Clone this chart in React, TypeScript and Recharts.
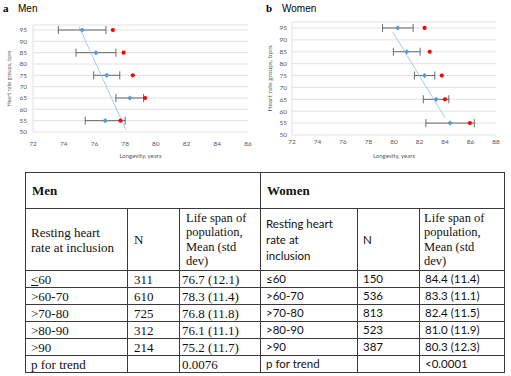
import React from 'react';
import { ScatterChart, Scatter, XAxis, YAxis, CartesianGrid, ErrorBar } from 'recharts';

// heart rate groups (bpm) on the y axis
const heartRateGroups = [55, 65, 75, 85, 95];
const yTicks = [50, 55, 60, 65, 70, 75, 80, 85, 90, 95];
const menXTicks = [72, 74, 76, 78, 80, 82, 84, 86];
const womenXTicks = [72, 74, 76, 78, 80, 82, 84, 86, 88];

// men: mean longevity (blue), error, red marker, trend line ends
const menMean = [76.7, 78.3, 76.8, 76.1, 75.2];
const menError = [1.3, 0.9, 0.85, 1.3, 1.55];
const menRed = [77.7, 79.3, 78.5, 77.9, 77.2];
const menTrendX = [75.0, 78.05];
const menTrendY = [96.5, 51];

// women
const womenMean = [84.4, 83.3, 82.4, 81.0, 80.3];
const womenError = [1.9, 1.0, 0.8, 1.05, 1.2];
const womenRed = [85.95, 84.0, 83.75, 82.8, 82.4];
const womenTrendX = [79.9, 84.0];
const womenTrendY = [93.3, 57.3];

// table
const rateGroups = ['≤60', '>60-70', '>70-80', '>80-90', '>90'];
const menN = ['311', '610', '725', '312', '214'];
const menLifeSpan = ['76.7 (12.1)', '78.3 (11.4)', '76.8 (11.8)', '76.1 (11.1)', '75.2 (11.7)'];
const menP = '0.0076';
const womenN = ['150', '536', '813', '523', '387'];
const womenLifeSpan = ['84.4 (11.4)', '83.3 (11.1)', '82.4 (11.5)', '81.0 (11.9)', '80.3 (12.3)'];
const womenP = '<0.0001';
const menRestingLines = ['Resting heart', 'rate at inclusion'];
const womenRestingLines = ['Resting heart', 'rate at', 'inclusion'];
const lifeSpanLines = ['Life span of', 'population,', 'Mean (std', 'dev)'];

const chartFont = "Lato, 'Liberation Sans', sans-serif";
const serif = "'Liberation Serif', 'Times New Roman', serif";
const tickStyle = { fontSize: 6.5, fill: '#595959', fontFamily: chartFont };

const BlueDiamond = (p: any) => {
  const { cx, cy } = p;
  const s = 2.6;
  return <polygon points={`${cx},${cy - s} ${cx + s},${cy} ${cx},${cy + s} ${cx - s},${cy}`} fill="#5b9bd5" />;
};

const RedDot = (p: any) => <circle cx={p.cx} cy={p.cy} r={2.1} fill="#ff0000" />;

const NoShape = () => <g />;

const makeYLabel = (dx: number, size: number) => ({ viewBox }: any) => {
  const cx = viewBox.x + dx;
  const cy = viewBox.y + viewBox.height / 2;
  return (
    <text x={cx} y={cy} transform={`rotate(-90 ${cx} ${cy})`} textAnchor="middle" dominantBaseline="central"
      fontSize={size} fill="#595959" fontFamily={chartFont}>
      Heart rate groups, bpm
    </text>
  );
};

const makeXLabel = (dy: number) => ({ viewBox }: any) => (
  <text x={viewBox.x + viewBox.width / 2} y={viewBox.y + dy} textAnchor="middle" dominantBaseline="central"
    fontSize={6} fill="#595959" fontFamily={chartFont}>
    Longevity, years
  </text>
);

type PanelProps = {
  mean: number[]; err: number[]; red: number[]; trendX: number[]; trendY: number[];
  xTicks: number[]; yMax: number; width: number; height: number;
  margin: { top: number; right: number; bottom: number; left: number };
  yAxisWidth: number; xTickMargin: number; yTickMargin: number; yLabelDx: number; yLabelSize: number; xLabelDy: number;
};

const Panel: React.FC<PanelProps> = (props) => {
  const points = heartRateGroups.map((g, i) => ({ x: props.mean[i], y: g, err: props.err[i] }));
  const redPoints = heartRateGroups.map((g, i) => ({ x: props.red[i], y: g }));
  const trend = props.trendX.map((x, i) => ({ x, y: props.trendY[i] }));
  return (
    <ScatterChart width={props.width} height={props.height} margin={props.margin}>
      <CartesianGrid vertical={false} stroke="#d9d9d9" strokeWidth={0.8} />
      <XAxis type="number" dataKey="x" domain={[props.xTicks[0], props.xTicks[props.xTicks.length - 1]]}
        ticks={props.xTicks} axisLine={false} tickLine={false} tickSize={0} tickMargin={props.xTickMargin}
        tick={tickStyle} height={30} interval={0} label={{ content: makeXLabel(props.xLabelDy) }} />
      <YAxis type="number" dataKey="y" domain={[50, props.yMax]} ticks={yTicks} width={props.yAxisWidth}
        axisLine={{ stroke: '#d9d9d9', strokeWidth: 0.8 }} tickLine={false} tickSize={0} tickMargin={props.yTickMargin}
        tick={tickStyle} interval={0} label={{ content: makeYLabel(props.yLabelDx, props.yLabelSize) }} />
      <Scatter data={trend} line={{ stroke: '#9dc3e6', strokeWidth: 0.9 }} shape={NoShape} isAnimationActive={false} />
      <Scatter data={points} shape={BlueDiamond} isAnimationActive={false}>
        <ErrorBar dataKey="err" direction="x" width={4} stroke="#595959" strokeWidth={0.9} />
      </Scatter>
      <Scatter data={redPoints} shape={RedDot} isAnimationActive={false} />
    </ScatterChart>
  );
};

const Lines: React.FC<{ lines: string[] }> = ({ lines }) => (
  <>{lines.map((l, i) => <React.Fragment key={i}>{i > 0 && <br />}{l}</React.Fragment>)}</>
);

const border = '1px solid #3a3a3a';
const menCell: React.CSSProperties = { border, padding: '0 0 0 5px', verticalAlign: 'middle', fontFamily: serif, fontSize: 13, lineHeight: '15px', color: '#111', whiteSpace: 'nowrap' };
const womenCell: React.CSSProperties = { ...menCell, fontFamily: 'Lato, sans-serif', fontSize: 11.5, lineHeight: '16px' };
const lifeHead: React.CSSProperties = { ...menCell, fontSize: 12.5, lineHeight: '14.2px', paddingLeft: 6 };

const App: React.FC = () => {
  return (
    <div style={{ position: 'absolute', left: 0, top: 0, width: 511, height: 376, background: '#fff' }}>
      <div style={{ position: 'absolute', left: 3, top: 2, fontFamily: serif, fontWeight: 'bold', fontSize: 11 }}>a</div>
      <div style={{ position: 'absolute', left: 18, top: 3, fontFamily: "'Liberation Sans', sans-serif", fontSize: 10 }}>Men</div>
      <div style={{ position: 'absolute', left: 266, top: 2, fontFamily: serif, fontWeight: 'bold', fontSize: 11 }}>b</div>
      <div style={{ position: 'absolute', left: 282, top: 3, fontFamily: "'Liberation Sans', sans-serif", fontSize: 10 }}>Women</div>

      <div style={{ position: 'absolute', left: 0, top: 0 }}>
        <Panel mean={menMean} err={menError} red={menRed} trendX={menTrendX} trendY={menTrendY}
          xTicks={menXTicks} yMax={97.2} width={260} height={162}
          margin={{ top: 25, right: 12, bottom: 0, left: 0 }} yAxisWidth={33}
          xTickMargin={9} yTickMargin={6} yLabelDx={8.5} yLabelSize={5.5} xLabelDy={23} />
      </div>
      <div style={{ position: 'absolute', left: 255, top: 0 }}>
        <Panel mean={womenMean} err={womenError} red={womenRed} trendX={womenTrendX} trendY={womenTrendY}
          xTicks={womenXTicks} yMax={97.5} width={256} height={165}
          margin={{ top: 22, right: 15, bottom: 0, left: 0 }} yAxisWidth={37}
          xTickMargin={4.5} yTickMargin={5} yLabelDx={14.5} yLabelSize={6.5} xLabelDy={20} />
      </div>

      <table style={{ position: 'absolute', left: 25, top: 172, width: 479, borderCollapse: 'collapse', tableLayout: 'fixed' }}>
        <colgroup>
          <col style={{ width: 102 }} />
          <col style={{ width: 52 }} />
          <col style={{ width: 81 }} />
          <col style={{ width: 97 }} />
          <col style={{ width: 62 }} />
          <col style={{ width: 85 }} />
        </colgroup>
        <tbody>
          <tr style={{ height: 36 }}>
            <td colSpan={3} style={{ ...menCell, fontWeight: 'bold', paddingLeft: 6 }}>Men</td>
            <td colSpan={3} style={{ ...menCell, fontWeight: 'bold', paddingLeft: 6 }}>Women</td>
          </tr>
          <tr style={{ height: 62 }}>
            <td style={menCell}><Lines lines={menRestingLines} /></td>
            <td style={{ ...menCell, paddingLeft: 6 }}>N</td>
            <td style={lifeHead}><Lines lines={lifeSpanLines} /></td>
            <td style={womenCell}><Lines lines={womenRestingLines} /></td>
            <td style={womenCell}>N</td>
            <td style={{ ...lifeHead, paddingLeft: 4 }}><Lines lines={lifeSpanLines} /></td>
          </tr>
          {rateGroups.map((g, i) => (
            <tr key={g} style={{ height: 17 }}>
              <td style={menCell}>
                {i === 0 ? <><span style={{ textDecoration: 'underline' }}>&lt;</span>60</> : g}
              </td>
              <td style={{ ...menCell, paddingLeft: 6 }}>{menN[i]}</td>
              <td style={{ ...menCell, paddingLeft: 2 }}>{menLifeSpan[i]}</td>
              <td style={womenCell}>{g}</td>
              <td style={womenCell}>{womenN[i]}</td>
              <td style={womenCell}>{womenLifeSpan[i]}</td>
            </tr>
          ))}
          <tr style={{ height: 17 }}>
            <td style={menCell}>p for trend</td>
            <td style={menCell}></td>
            <td style={{ ...menCell, paddingLeft: 2 }}>{menP}</td>
            <td style={womenCell}>p for trend</td>
            <td style={womenCell}></td>
            <td style={womenCell}>{womenP}</td>
          </tr>
        </tbody>
      </table>
    </div>
  );
};

export default App;
